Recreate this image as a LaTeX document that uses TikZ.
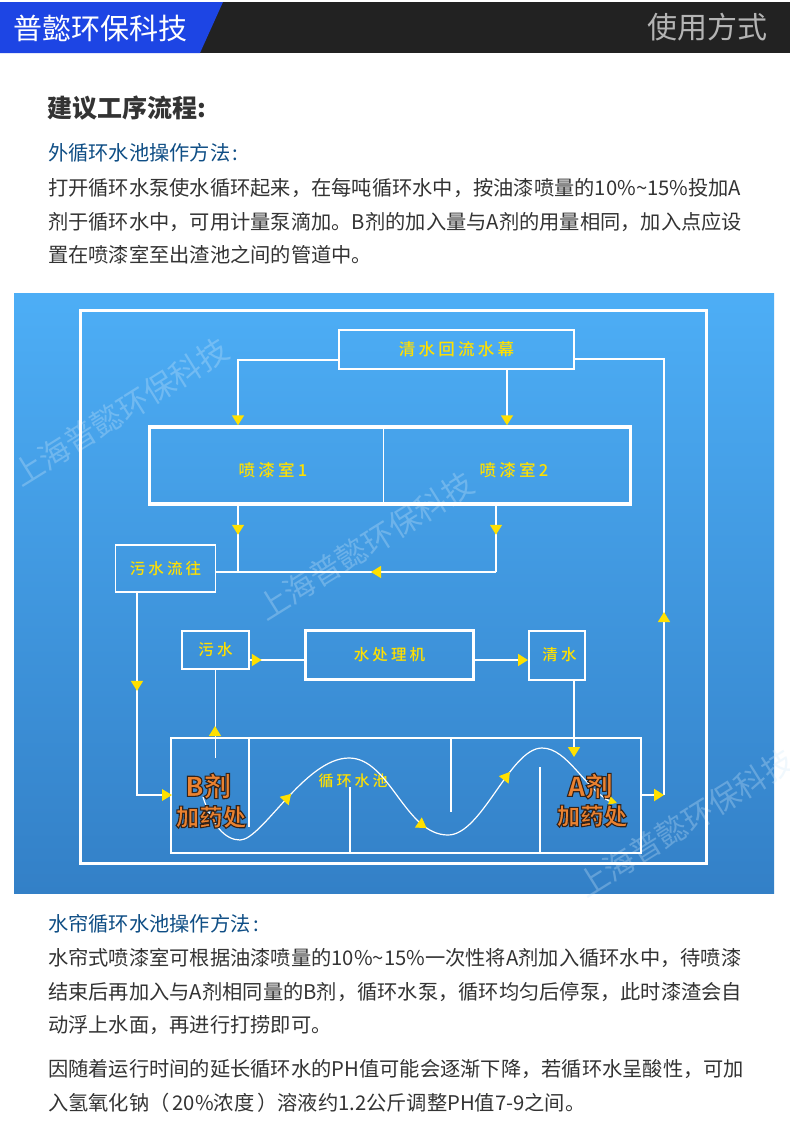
\documentclass[tikz,border=0pt]{standalone}
\usepackage{fontspec}
\setmainfont{Noto Sans CJK SC}
\newfontfamily\spacedcjk[LetterSpace=20]{Noto Sans CJK SC Medium}
\newfontfamily\heavycjk{Noto Sans CJK SC Black}
\usetikzlibrary{arrows.meta,decorations.markings}
\definecolor{bartop}{HTML}{222222}
\definecolor{barblue}{HTML}{1D45E4}
\definecolor{bargray}{HTML}{B4B4B4}
\definecolor{headblue}{HTML}{0F4E85}
\definecolor{bodygray}{HTML}{333333}
\definecolor{tipyellow}{HTML}{FFE000}
\definecolor{poolorange}{HTML}{EB8230}
\definecolor{skytop}{HTML}{4DAEF6}
\definecolor{skybottom}{HTML}{3380C7}
\definecolor{markblue}{HTML}{CFE8FA}
\tikzset{
	>={Triangle[length=10pt,width=12pt,color=tipyellow]},
	bodyline/.style={anchor=base west,inner sep=0pt,text=bodygray,font=\fontsize{20.25}{24}\selectfont},
	headline/.style={bodyline,text=headblue},
	box/.style={draw=white,line width=#1,inner sep=0pt,text=tipyellow,font=\spacedcjk\fontsize{15.5}{18}\selectfont},
	label/.style={text=tipyellow,inner sep=0pt,font=\spacedcjk\fontsize{16.5}{18}\selectfont},
	pipe/.style={draw=white,line width=#1},
	baffle/.style={draw=white,line width=2pt},
	tipat/.style={postaction={decorate,decoration={markings,mark=at position #1pt with {\arrow{>}}}}},
	dose/.style={text=poolorange,inner sep=0pt,font=\heavycjk\fontsize{#1}{#1}\selectfont},
	wave/.style={draw=white,line width=1.2pt,
		postaction={decorate,decoration={markings,
			mark=at position 0.235 with {\arrow{>}},
			mark=at position 0.555 with {\arrow{>}},
			mark=at position 0.76 with {\arrow{>}}}}},
}
\newcommand{\outlined}[1]{\special{pdf:code 2 Tr 1.1 w 0.2 0.137 0.102 RG}#1\special{pdf:code 0 Tr}}
\begin{document}
\begin{tikzpicture}[x=1pt,y=-1pt]
	\useasboundingbox (0,0) rectangle (790,1125);
	\fill[white] (0,0) rectangle (790,1125);
	% title bar
	\fill[bartop] (0,2) rectangle (790,53);
	\fill[barblue] (0,2) -- (223,2) -- (200,53) -- (0,53) -- cycle;
	\node[anchor=base west,inner sep=0pt,text=white,font=\fontsize{29}{30}\selectfont] (brand) at (13,39) {普懿环保科技};
	\node[anchor=base east,inner sep=0pt,text=bargray,font=\fontsize{30}{30}\selectfont] (usage) at (768,38) {使用方式};
	% upper text
	\node[anchor=base west,inner sep=0pt,text=bodygray,font=\heavycjk\fontsize{25}{26}\selectfont] (title) at (47,117) {建议工序流程:};
	\node[headline] (outerhead) at (48,160.5) {外循环水池操作方法\hspace{2pt}:};
	\node[bodyline] (outer1) at (48,195.5) {打开循环水泵使水循环起来，在每吨循环水中，按油漆喷量的10\%\textasciitilde15\%投加A};
	\node[bodyline] (outer2) at (48,229) {剂于循环水中，可用计量泵滴加。B剂的加入量与A剂的用量相同，加入点应设};
	\node[bodyline] (outer3) at (48,262.5) {置在喷漆室至出渣池之间的管道中。};
	% blue panel
	\shade[top color=skytop,bottom color=skybottom] (14,293) rectangle (774,893);
	\foreach \x/\y in {120/412,365/546,685/823}
		\node[rotate=32,text=markblue,opacity=.3,font=\fontsize{31}{32}\selectfont] at (\x,\y) {上海普懿环保科技};
	\draw[white,line width=3pt] (80,310) rectangle (706,863);
	% boxes
	\node[box=2pt,minimum width=235pt,minimum height=39pt] (rinse) at (456.5,349.5) {\fontsize{16.5}{18}\selectfont 清水回流水幕};
	\node[box=3.5pt,minimum width=481pt,minimum height=77pt] (spray) at (390,465.5) {};
	\node[label] (spray1) at (273,470) {喷漆室1};
	\node[label] (spray2) at (514,470) {喷漆室2};
	\node[box=1.8pt,minimum width=100pt,minimum height=47pt] (sewage) at (165.5,568.5) {污水流往};
	\node[box=1.5pt,minimum width=67pt,minimum height=38pt] (dirty) at (215.5,650) {\raisebox{1pt}{污水}};
	\node[box=3pt,minimum width=168pt,minimum height=49pt] (machine) at (389.5,655) {水处理机};
	\node[box=2pt,minimum width=56pt,minimum height=49pt] (clean) at (557,655) {\hspace{5pt}清水};
	\node[draw=white,line width=2.5pt,minimum width=470pt,minimum height=115pt,inner sep=0pt] (pool) at (406,795.5) {};
	% pool
	\foreach \x/\ya/\yb in {249/738/827,350/787/853,451/738/812,540/767/853}
		\draw[baffle] (\x,\ya) -- (\x,\yb);
	\node[text=tipyellow,inner sep=0pt,font=\spacedcjk\fontsize{15}{18}\selectfont] (poollabel) at (353,781) {循环水池};
	\draw[wave] (203,797) .. controls (212,825) and (225,840) .. (240,840) .. controls (262,840) and (305,758) .. (349,758) .. controls (390,758) and (405,835) .. (448,835) .. controls (482,835) and (510,748) .. (542,748) .. controls (568,748) and (585,790) .. (613,803);
	\node[dose=27] (bdose) at (208,786) {\outlined{B剂}};
	\node[dose=23.5] (bplace) at (211,817) {\outlined{加药处}};
	\node[dose=27] (adose) at (590,786) {\outlined{A剂}};
	\node[dose=23.5] (aplace) at (592,816) {\outlined{加药处}};
	\coordinate (wavein) at (605,799);
	\coordinate (waveend) at (617,803);
	\draw[pipe=1pt,->,>={Triangle[length=8pt,width=8pt,color=tipyellow]}] (wavein) -- (waveend);
	% connectors
	\coordinate (rinseleft) at (238,360);
	\coordinate (rinsedown) at (507,369);
	\coordinate (riser) at (664,359);
	\coordinate (riserfoot) at (664,795);
	\coordinate (drop1) at (238,572);
	\coordinate (drop2) at (496,572);
	\coordinate (sewfoot) at (137,795);
	\coordinate (dirtyfoot) at (215,758);
	\coordinate (cleanfoot) at (574,757);
	\draw[pipe=1.8pt,->] (rinse.west |- rinseleft) -- (rinseleft) -- (rinseleft |- spray.north);
	\draw[pipe=1.8pt,->] (rinsedown) -- (rinsedown |- spray.north);
	\draw[pipe=1.6pt,tipat=183] (riserfoot) -- (riser) -- (rinse.east |- riser);
	\draw[pipe=2.2pt,->] (pool.east |- riserfoot) -- (riserfoot);
	\draw[pipe=1pt] (spray.north -| 383.5,0) -- (spray.south -| 383.5,0);
	\draw[pipe=1.6pt,tipat=29] (drop1 |- spray.south) -- (drop1);
	\draw[pipe=1.6pt,tipat=29] (drop2 |- spray.south) -- (drop2);
	\draw[pipe=1.2pt,tipat=125] (drop2) -- (sewage.east |- drop2);
	\draw[pipe=1.8pt,tipat=98] (sewfoot |- sewage.south) -- (sewfoot) -- (pool.west |- sewfoot);
	\fill[tipyellow] (162,789) -- (172,795) -- (162,801) -- cycle;
	\draw[pipe=1.8pt,tipat=12] (dirty.east |- 0,660) -- (machine.west |- 0,660);
	\draw[pipe=1.8pt,->] (machine.east |- 0,660) -- (clean.west |- 0,660);
	\draw[pipe=1.5pt,->] (cleanfoot |- clean.south) -- (cleanfoot);
	\draw[pipe=1pt,tipat=32] (dirtyfoot) -- (dirtyfoot |- dirty.south);
	% lower text
	\node[headline] (curtainhead) at (48,931.5) {水帘循环水池操作方法\hspace{3pt}:};
	\node[bodyline] (curtain1) at (48,965.5) {水帘式喷漆室可根据油漆喷量的10\%\textasciitilde15\%一次性将A剂加入循环水中，待喷漆};
	\node[bodyline] (curtain2) at (48,999) {结束后再加入与A剂相同量的B剂，循环水泵，循环均匀后停泵，此时漆渣会自};
	\node[bodyline] (curtain3) at (48,1032.5) {动浮上水面，再进行打捞即可。};
	\node[bodyline] (acid1) at (48,1076.5) {因随着运行时间的延长循环水的PH值可能会逐渐下降，若循环水呈酸性，可加};
	\node[bodyline] (acid2) at (48,1110.5) {入氢氧化钠（\hspace{3pt}20\%浓度\hspace{3pt}）溶液约1.2公斤调整PH值7-9之间。};
\end{tikzpicture}
\end{document}
